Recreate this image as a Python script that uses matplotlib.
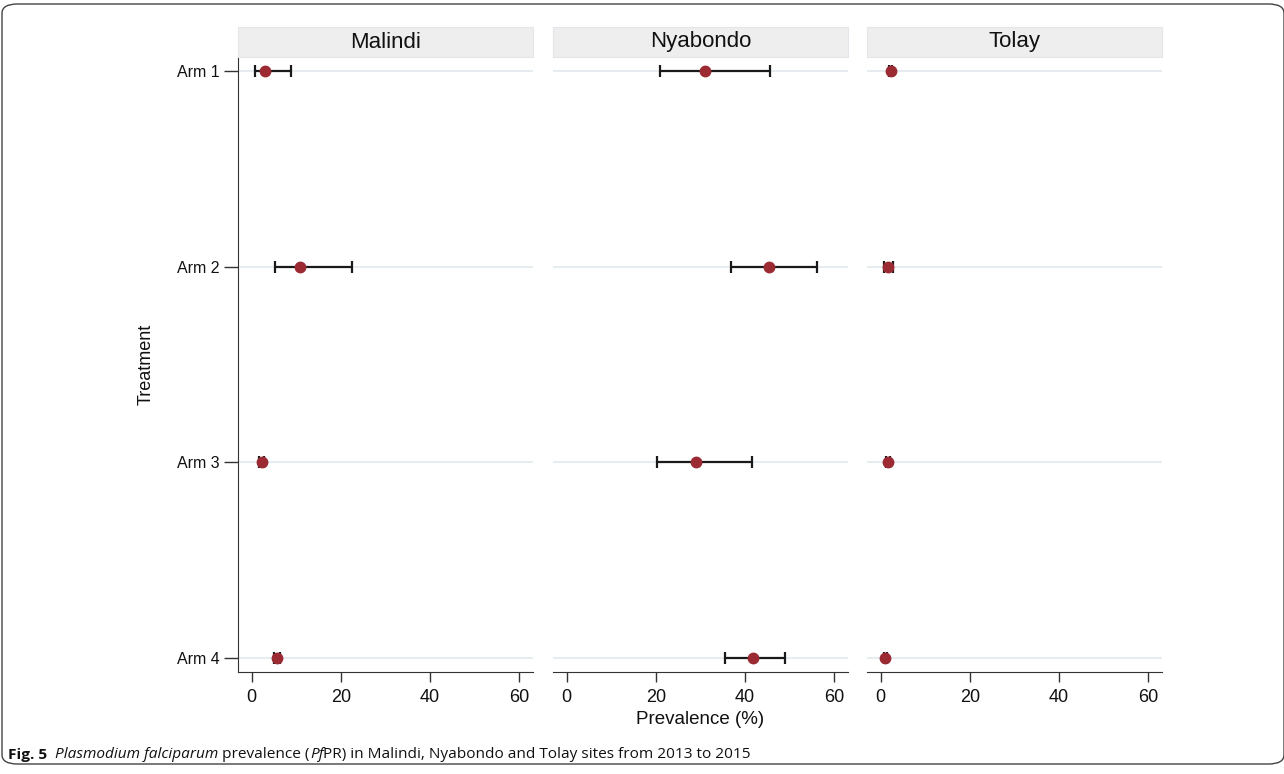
import numpy as np
import matplotlib
matplotlib.use("Agg")
import matplotlib.pyplot as plt
from matplotlib.patches import FancyBboxPatch, Rectangle

plt.rcParams['font.family'] = ['Liberation Sans', 'DejaVu Sans']

sites = ['Malindi', 'Nyabondo', 'Tolay']
arms = ['Arm 1', 'Arm 2', 'Arm 3', 'Arm 4']

# prevalence estimate and 95% CI, per site, arms 1..4
est = {
    'Malindi':  [3.0, 10.8, 2.2, 5.6],
    'Nyabondo': [31.1, 45.5, 29.1, 41.9],
    'Tolay':    [2.2, 1.6, 1.6, 1.0],
}
lo = {
    'Malindi':  [0.8, 5.3, 1.6, 5.0],
    'Nyabondo': [21.0, 36.9, 20.2, 35.5],
    'Tolay':    [1.8, 0.7, 1.1, 0.7],
}
hi = {
    'Malindi':  [8.8, 22.5, 2.8, 6.4],
    'Nyabondo': [45.7, 56.3, 41.7, 49.1],
    'Tolay':    [2.6, 2.8, 2.1, 1.3],
}
xticks = [0, 20, 40, 60]

W, H = 1284, 774
fig = plt.figure(figsize=(W / 100, H / 100), dpi=100)

# rounded frame round the figure
frame = FancyBboxPatch((2 / W, 10 / H), (W - 2) / W, (H - 14) / H,
                       boxstyle="round,pad=0,rounding_size=0.012",
                       transform=fig.transFigure, fill=False,
                       edgecolor='#444444', lw=1.0, clip_on=False)
fig.patches.append(frame)

lefts = [238, 553, 867]
pw = 295
ax_bot, ax_top = 672, 57
strip_top = 27
ypos = np.arange(1, len(arms) + 1)

axes = []
for i, site in enumerate(sites):
    ax = fig.add_axes([lefts[i] / W, 1 - ax_bot / H, pw / W, (ax_bot - ax_top) / H])
    axes.append(ax)
    for y in ypos:
        ax.axhline(y, color='#e6ecef', lw=1.5, zorder=0)
    e = np.array(est[site])
    l = np.array(lo[site])
    h = np.array(hi[site])
    ax.errorbar(e, ypos, xerr=[e - l, h - e], fmt='none', ecolor='#1a1a1a',
                elinewidth=1.6, capsize=4.5, capthick=1.6, zorder=2)
    ax.plot(e, ypos, 'o', color='#9b2a33', ms=7.5, zorder=3)
    ax.set_xlim(-3.1, 63.2)
    ax.set_ylim(4 + 14 / 195.7, 1 - 14 / 195.7)
    ax.set_xticks(xticks)
    ax.tick_params(axis='x', length=7, width=1, labelsize=13, pad=5,
                   colors='#333333', labelcolor='#111111')
    for s in ['top', 'right']:
        ax.spines[s].set_visible(False)
    ax.spines['bottom'].set_color('#333333')
    if i == 0:
        ax.set_yticks(ypos)
        ax.set_yticklabels(arms, fontsize=11.5)
        ax.tick_params(axis='y', length=10, width=1, pad=3,
                       colors='#333333', labelcolor='#111111')
        ax.spines['left'].set_color('#333333')
        ax.set_ylabel('Treatment', fontsize=13, labelpad=16, color='#111111')
    else:
        ax.set_yticks([])
        ax.spines['left'].set_visible(False)

    # strip header
    fig.patches.append(Rectangle((lefts[i] / W, 1 - ax_top / H), pw / W,
                                 (ax_top - strip_top) / H, transform=fig.transFigure,
                                 facecolor='#eeeeee', edgecolor='#e2e6ea', lw=0.8))
    fig.text((lefts[i] + pw / 2) / W, 1 - (ax_top + strip_top) / 2 / H, site,
             ha='center', va='center', fontsize=16, color='#111111')

fig.text(700 / W, 1 - 720 / H, 'Prevalence (%)', ha='center', va='center',
         fontsize=13.5, color='#111111')

# caption, built piece by piece
pieces = [('Fig. 5', 'bold', 'normal'),
          ('  ', 'normal', 'normal'),
          ('Plasmodium falciparum', 'normal', 'italic'),
          (' prevalence (', 'normal', 'normal'),
          ('Pf', 'normal', 'italic'),
          ('PR) in Malindi, Nyabondo and Tolay sites from 2013 to 2015', 'normal', 'normal')]
fig.canvas.draw()
renderer = fig.canvas.get_renderer()
x = 8
for txt, weight, style in pieces:
    t = fig.text(x / W, 1 - 755 / H, txt, ha='left', va='center', fontsize=11.1,
                 fontweight=weight, fontstyle=style, color='#111111',
                 family=['Open Sans', 'DejaVu Sans'])
    bb = t.get_window_extent(renderer=renderer)
    x += bb.width

fig.savefig('out.png', dpi=100)
